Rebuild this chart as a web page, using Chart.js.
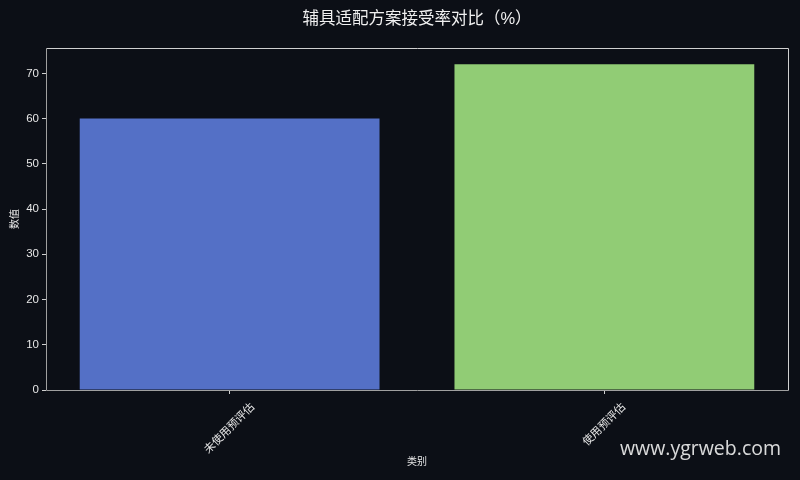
<!DOCTYPE html>
<html><head><meta charset="utf-8">
<script src="https://cdn.jsdelivr.net/npm/chart.js@4/dist/chart.umd.min.js"></script>
<style>html,body{margin:0;padding:0;background:#0c0f16;}#wrap{width:800px;height:480px;}</style>
</head><body><div id="wrap"><canvas id="c" width="800" height="480"></canvas></div>
<script>
const categories = ["未使用预评估", "使用预评估"];
const values = [60, 72];
const barColors = ["#5470c6", "#91cc75"];
const yTicks = [0, 10, 20, 30, 40, 50, 60, 70];
const titleText = "辅具适配方案接受率对比（%）";
const xTitle = "类别";
const yTitle = "数值";
const watermark = "www.ygrweb.com";

const FONT = "'Liberation Sans', 'Noto Sans CJK SC', sans-serif";
const txt = "#e6e6e6";

const framePlugin = {
  id: 'frame',
  beforeDraw(chart) {
    const ctx = chart.ctx;
    ctx.save();
    ctx.fillStyle = '#0c0f16';
    ctx.fillRect(0, 0, chart.width, chart.height);
    ctx.restore();
  },
  afterDraw(chart) {
    const {ctx, chartArea: a} = chart;
    ctx.save();
    ctx.strokeStyle = '#d0d0d0';
    ctx.lineWidth = 1;
    ctx.beginPath();
    ctx.moveTo(a.left + 0.5, a.top + 0.5);
    ctx.lineTo(a.right + 0.5, a.top + 0.5);
    ctx.lineTo(a.right + 0.5, a.bottom + 0.5);
    ctx.stroke();
    ctx.strokeStyle = '#a0a0a0';
    ctx.beginPath();
    ctx.moveTo(a.left + 0.5, a.top + 0.5);
    ctx.lineTo(a.left + 0.5, a.bottom + 0.5);
    ctx.lineTo(a.right + 0.5, a.bottom + 0.5);
    ctx.stroke();

    // rotated x tick labels, centred under each tick (matplotlib style)
    const xs = chart.scales.x;
    ctx.fillStyle = txt;
    ctx.font = "11px " + FONT;
    ctx.textAlign = 'center';
    ctx.textBaseline = 'middle';
    categories.forEach((c, i) => {
      const px = xs.getPixelForValue(i);
      const w = ctx.measureText(c).width;
      const h = 12;
      const bh = (w + h) * Math.SQRT1_2;
      ctx.save();
      ctx.translate(px, a.bottom + 11 + bh / 2);
      ctx.rotate(-Math.PI / 4);
      ctx.fillText(c, 0, 0);
      ctx.restore();
    });

    ctx.fillStyle = 'rgba(235,235,235,0.92)';
    ctx.font = "19.5px 'Open Sans', 'DejaVu Sans', sans-serif";
    ctx.textAlign = 'right';
    ctx.textBaseline = 'middle';
    ctx.fillText(watermark, 781, 449);
    ctx.restore();
  }
};

new Chart(document.getElementById('c'), {
  type: 'bar',
  data: {
    labels: categories,
    datasets: [{
      data: values.map((v, i) => ({ x: i, y: v })),
      backgroundColor: barColors,
      borderWidth: 0,
      barPercentage: 0.8,
      categoryPercentage: 1.0
    }]
  },
  options: {
    responsive: false,
    animation: false,
    devicePixelRatio: 1,
    layout: { padding: { top: 0, right: 12, left: 0, bottom: 0 } },
    plugins: {
      legend: { display: false },
      tooltip: { enabled: false },
      title: {
        display: true,
        fullSize: false,
        text: titleText,
        color: '#f0f0f0',
        font: { family: FONT, size: 16.5, weight: 'normal', lineHeight: 1.2 },
        padding: { top: 10, bottom: 18.2 }
      }
    },
    scales: {
      x: {
        type: 'linear',
        offset: false,
        min: -0.49,
        max: 1.49,
        afterBuildTicks(s) { s.ticks = categories.map((c, i) => ({ value: i })); },
        grid: { display: true, offset: false, drawOnChartArea: false, drawTicks: true, tickLength: 4, color: '#d0d0d0' },
        border: { display: false },
        ticks: { color: txt, font: { family: FONT, size: 10 }, minRotation: 45, maxRotation: 45, padding: 2, callback: () => '' },
        title: { display: true, text: xTitle, color: txt, font: { family: FONT, size: 10 }, padding: { top: 0, bottom: 12 } },
        afterFit(s) { s.height = 90; }
      },
      y: {
        min: 0,
        max: 75.6,
        afterBuildTicks(s) { s.ticks = yTicks.map(v => ({ value: v })); },
        grid: { display: true, drawOnChartArea: false, drawTicks: true, tickLength: 4, color: '#d0d0d0' },
        border: { display: false },
        ticks: { color: txt, font: { family: FONT, size: 11.5 }, padding: 3 },
        title: { display: true, text: yTitle, color: txt, font: { family: FONT, size: 10 }, padding: { top: 9, bottom: 3 } },
        afterFit(s) { s.width = 46; }
      }
    }
  },
  plugins: [framePlugin]
});
</script>
</body></html>
